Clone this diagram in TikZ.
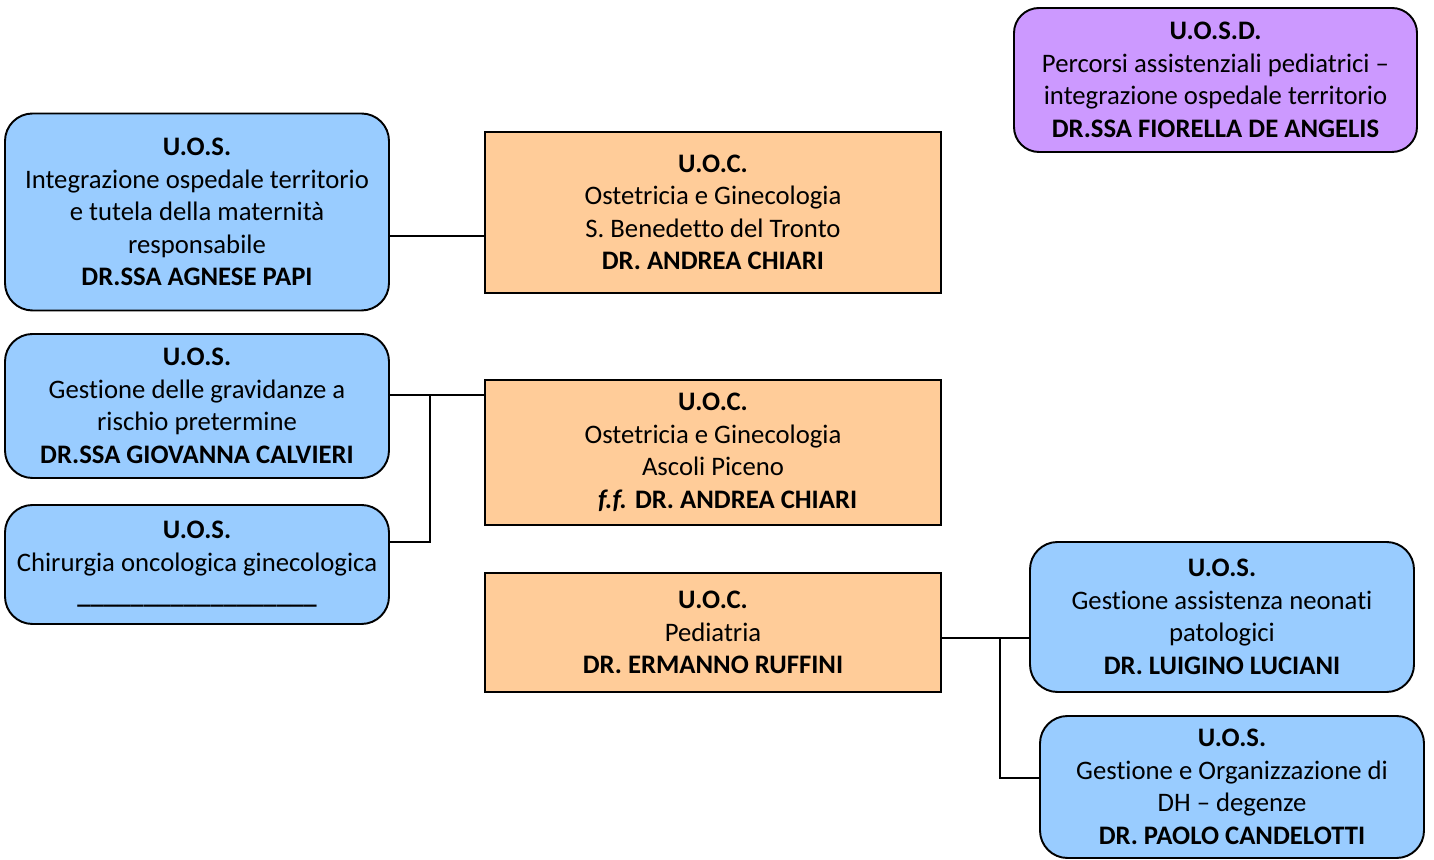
\documentclass[tikz,border=0pt]{standalone}
\usepackage{fontspec}
\setmainfont{Carlito}[Ligatures={TeX,NoCommon}]
\usepackage{tikz}
\usetikzlibrary{calc}

\definecolor{uosblue}{HTML}{99CCFF}
\definecolor{uocorange}{HTML}{FFCC99}
\definecolor{uosdpurple}{HTML}{CC99FF}

\begin{document}
\begin{tikzpicture}[
    every node/.style={font=\fontsize{15.2}{18.5}\selectfont, align=center, inner sep=0pt},
    uosbox/.style={draw=black, line width=1.1pt, fill=uosblue, rounded corners=0.55cm,
                   minimum width=7.68cm},
    uocbox/.style={draw=black, line width=1.1pt, fill=uocorange,
                   minimum width=9.12cm},
    uosdbox/.style={draw=black, line width=1.1pt, fill=uosdpurple, rounded corners=0.5cm,
                    minimum width=8.06cm, minimum height=2.88cm},
    link/.style={draw=black, line width=0.8pt}]
    \useasboundingbox (0,0) rectangle (28.68,17.2);% Page size

    % Staff units in the top right corner
    \node[uosdbox] (uosdPercorsi) at (24.31,15.6)
        {\textbf{U.O.S.D.}\\Percorsi assistenziali pediatrici –\\integrazione ospedale territorio\\\textbf{DR.SSA FIORELLA DE ANGELIS}};

    % Complex units in the middle column
    \node[uocbox, minimum height=3.22cm] (uocSanBenedetto) at (14.26,12.95)
        {\textbf{U.O.C.}\\Ostetricia e Ginecologia\\S. Benedetto del Tronto\\\textbf{DR. ANDREA CHIARI}};
    \node[uocbox, minimum height=2.9cm] (uocAscoli) at (14.26,8.15)
        {\textbf{U.O.C.}\\Ostetricia e Ginecologia\\Ascoli Piceno\\\hspace*{1.1em}\textbf{\textit{f.f.} DR. ANDREA CHIARI}};
    \node[uocbox, minimum height=2.38cm] (uocPediatria) at (14.26,4.55)
        {\textbf{U.O.C.}\\Pediatria\\\textbf{DR. ERMANNO RUFFINI}};

    % Simple units on the left
    \node[uosbox, minimum height=3.94cm] (uosPapi) at (3.94,12.96)
        {\textbf{U.O.S.}\\Integrazione ospedale territorio\\e tutela della maternità\\responsabile\\\textbf{DR.SSA AGNESE PAPI}};
    \node[uosbox, minimum height=2.88cm] (uosCalvieri) at (3.94,9.08)
        {\textbf{U.O.S.}\\Gestione delle gravidanze a\\rischio pretermine\\\textbf{DR.SSA GIOVANNA CALVIERI}};
    \node[uosbox, minimum height=2.38cm] (uosChirurgia) at (3.94,5.91)
        {\textbf{U.O.S.}\\Chirurgia oncologica ginecologica\\\textbf{\textunderscore\textunderscore\textunderscore\textunderscore\textunderscore\textunderscore\textunderscore\textunderscore\textunderscore\textunderscore\textunderscore\textunderscore\textunderscore\textunderscore\textunderscore\textunderscore\textunderscore\textunderscore}};

    % Simple units on the right
    \node[uosbox, minimum height=3.0cm] (uosLuciani) at (24.44,4.86)
        {\textbf{U.O.S.}\\Gestione assistenza neonati\\patologici\\\textbf{DR. LUIGINO LUCIANI}};
    \node[uosbox, minimum height=2.84cm] (uosCandelotti) at (24.64,1.46)
        {\textbf{U.O.S.}\\Gestione e Organizzazione di\\DH – degenze\\\textbf{DR. PAOLO CANDELOTTI}};

    % Junction points of the connectors
    \coordinate (jBenedetto) at (8.2,12.48);
    \coordinate (jAscoli)    at (8.6,9.3);
    \coordinate (jChir)      at (8.6,6.36);
    \coordinate (jPed)       at (20,4.44);
    \coordinate (jCand)      at (20,1.64);

    \draw[link] (jBenedetto -| uosPapi.east) -- (jBenedetto -| uocSanBenedetto.west);
    \draw[link] (jAscoli -| uosCalvieri.east) -- (jAscoli -| uocAscoli.west);
    \draw[link] (jAscoli) -- (jChir) -- (jChir -| uosChirurgia.east);
    \draw[link] (jPed -| uocPediatria.east) -- (jPed -| uosLuciani.west);
    \draw[link] (jPed) -- (jCand) -- (jCand -| uosCandelotti.west);
\end{tikzpicture}
\end{document}
